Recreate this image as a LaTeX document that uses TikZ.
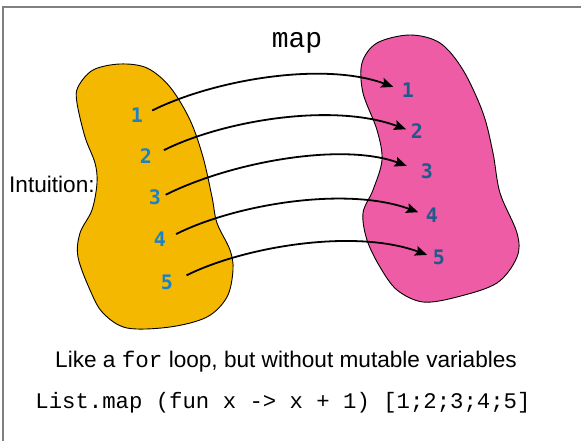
\documentclass[tikz,border=0pt]{standalone}
\usepackage{fontspec}
\setmainfont{Liberation Sans}
\setmonofont{Liberation Mono}
\newfontfamily\numfont{DejaVu Sans Mono}
\usetikzlibrary{arrows.meta}
\definecolor{blobyellow}{RGB}{245,184,0}
\definecolor{blobpink}{RGB}{238,92,166}
\definecolor{numblueA}{RGB}{28,130,198}
\definecolor{numblueB}{RGB}{31,90,140}
\definecolor{framegray}{RGB}{128,128,128}
\begin{document}
\begin{tikzpicture}[x=1pt,y=-1pt,
  blob/.style={draw=black, line width=0.9pt},
  numA/.style={inner sep=0pt, text=numblueA, font=\numfont\bfseries\fontsize{20}{20}\selectfont},
  numB/.style={inner sep=0pt, text=numblueB, font=\numfont\bfseries\fontsize{20}{20}\selectfont},
  maparrow/.style={line width=1.8pt, -{Stealth[length=12pt,width=10pt,inset=2pt]}},
  label/.style={inner sep=0pt, font=\fontsize{22.6}{26}\selectfont},
  code/.style={inner sep=0pt, font=\ttfamily\fontsize{22.3}{26}\selectfont}]
\useasboundingbox (0,0) rectangle (581,441);
\draw[framegray, line width=1.3pt] (3,441) -- (3,7) -- (581,7);

\draw[blob, fill=blobyellow] plot[smooth cycle, tension=0.55] coordinates {
  (120,64) (147,68) (170,87) (190,120) (203,157) (212,197) (217,223)
  (230,250) (233,270) (227,297) (207,317) (170,327) (127,328) (103,313)
  (90,290) (78,257) (80,233) (92,210) (97,183) (95,163) (85,137)
  (77,103) (78,87) (93,70)};
\draw[blob, fill=blobpink] plot[smooth cycle, tension=0.55] coordinates {
  (410,35) (440,43) (463,70) (483,113) (493,153) (500,193) (517,233)
  (517,257) (497,283) (457,297) (423,302) (397,290) (380,267) (367,240)
  (363,213) (373,190) (382,160) (377,130) (363,93) (362,63) (377,43)};

\node[numA] (l1) at (137,115) {1};
\node[numA] (l2) at (146,156) {2};
\node[numA] (l3) at (155,197) {3};
\node[numA] (l4) at (160,239) {4};
\node[numA] (l5) at (167,282) {5};
\node[numB] (r1) at (408,90) {1};
\node[numB] (r2) at (417,131) {2};
\node[numB] (r3) at (427,171) {3};
\node[numB] (r4) at (432,215) {4};
\node[numB] (r5) at (439,257) {5};

\foreach \i/\sa/\sb in {1/10/9, 2/13/5, 3/5/15, 4/11/8, 5/15/6}
  \draw[maparrow, shorten <=\sa pt, shorten >=\sb pt]
    (l\i.east) .. controls +(70,-35) and +(-79,-29) .. (r\i.west);

\node[inner sep=0pt, anchor=base, font=\ttfamily\fontsize{28}{30}\selectfont] (map) at (297,48) {map};
\node[label, anchor=base west] (intu) at (9,192) {Intuition:};
\node[label, anchor=base] (like) at (286,367) {Like a \texttt{for} loop, but without mutable variables};
\node[code, anchor=base] (code) at (283,408) {List.map (fun x -> x + 1) [1;2;3;4;5]};
\end{tikzpicture}
\end{document}
